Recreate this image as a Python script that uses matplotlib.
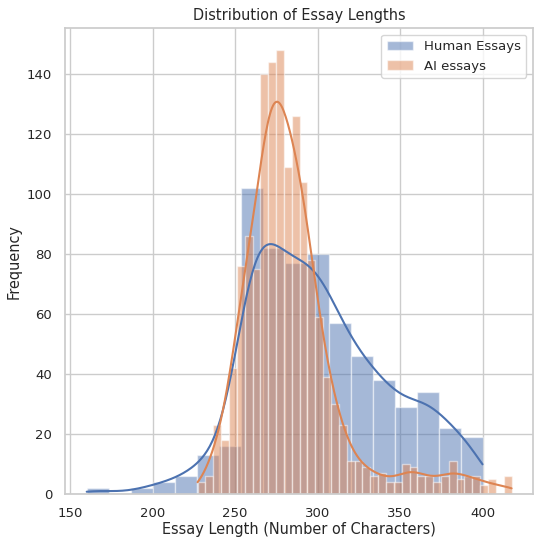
import numpy as np
import matplotlib
matplotlib.use("Agg")
import matplotlib.pyplot as plt
import seaborn as sns

# histogram counts
human_range = (160.0, 400.0)
human_counts = [2, 0, 2, 4, 6, 13, 16, 102, 82, 77, 80, 57, 46, 38, 29, 34, 22, 19]

ai_range = (227.2, 417.6)
ai_counts = [4, 6, 23, 18, 42, 76, 86, 75, 140, 144, 148, 109, 126, 104, 78, 59,
             39, 30, 23, 11, 11, 9, 6, 7, 4, 4, 10, 9, 6, 6, 4, 6, 11, 5, 6, 6,
             3, 5, 0, 6]

labels = ["Human Essays", "AI essays"]


def kde_curve(edges, counts):
    # gaussian kde (scott) from the binned counts, scaled to counts like seaborn
    centers = (edges[:-1] + edges[1:]) / 2
    samples = np.repeat(centers, counts)
    n = len(samples)
    bw = samples.std(ddof=1) * n ** (-1 / 5)
    grid = np.linspace(edges[0], edges[-1], 300)
    dens = np.exp(-0.5 * ((grid[:, None] - samples[None, :]) / bw) ** 2).sum(axis=1)
    dens /= n * bw * np.sqrt(2 * np.pi)
    return grid, dens * n * (edges[1] - edges[0])


sns.set_theme(style="whitegrid", font_scale=0.87)

fig, ax = plt.subplots(figsize=(5.35, 5.4), dpi=100)
colors = sns.color_palette("deep")

for rng, counts, lab, col in [(human_range, human_counts, labels[0], colors[0]),
                              (ai_range, ai_counts, labels[1], colors[1])]:
    edges = np.linspace(rng[0], rng[1], len(counts) + 1)
    ax.bar(edges[:-1], counts, width=np.diff(edges), align="edge", color=col,
           alpha=0.5, edgecolor="white", linewidth=1, label=lab)
    gx, gy = kde_curve(edges, np.array(counts))
    ax.plot(gx, gy, color=col, linewidth=1.5)

ax.set_xlim(147, 430.5)
ax.set_ylim(0, 155.4)
ax.set_title("Distribution of Essay Lengths")
ax.set_xlabel("Essay Length (Number of Characters)", labelpad=1)
ax.set_ylabel("Frequency")
ax.legend(loc="upper right")

fig.subplots_adjust(left=0.122, right=0.996, top=0.948, bottom=0.085)
fig.savefig("out.png")
